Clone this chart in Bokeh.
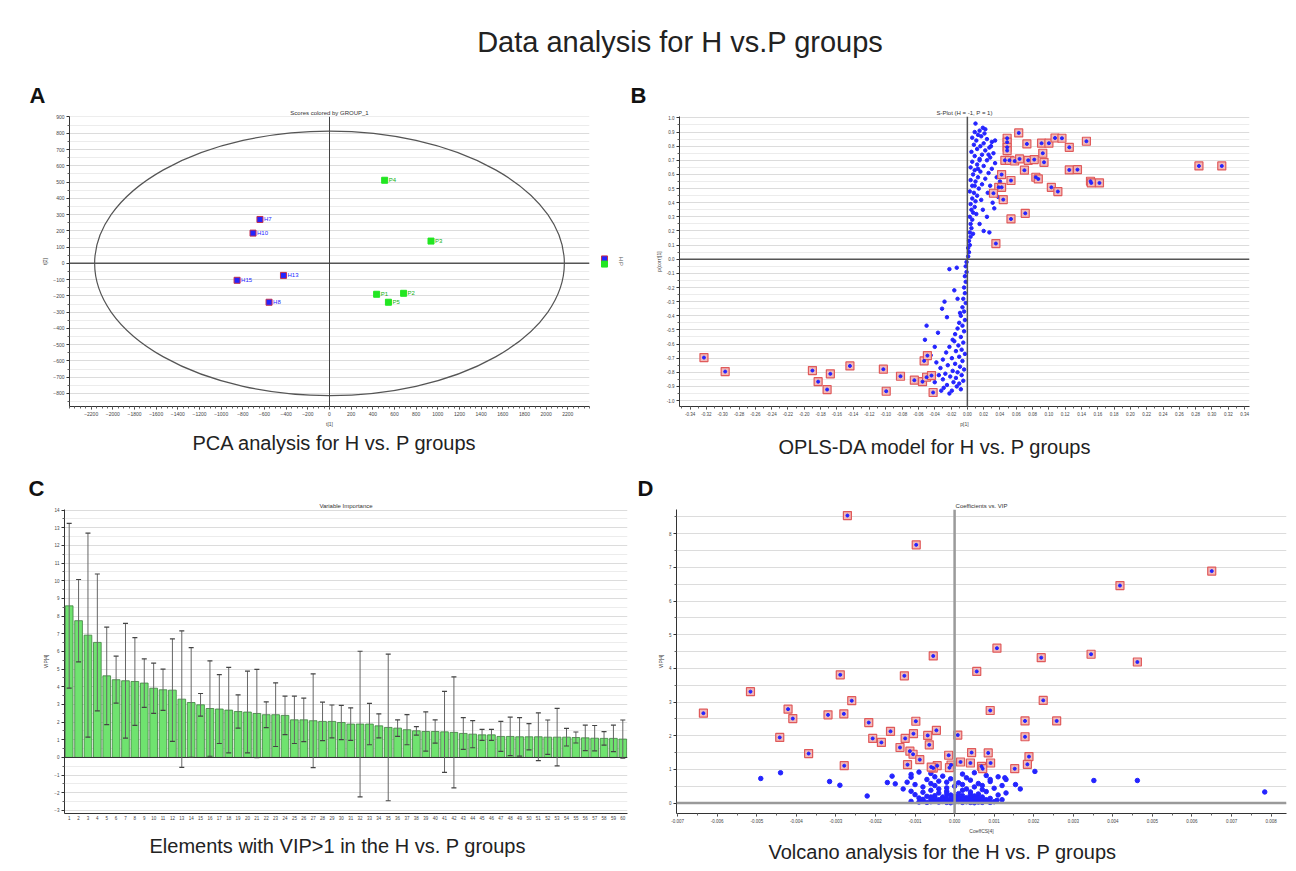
from bokeh.plotting import figure
from bokeh.models import (ColumnDataSource, Span, Title, FixedTicker, Whisker, TeeHead,
                          PrintfTickFormatter, Div, FactorRange)
from bokeh.layouts import column, row
from bokeh.embed import file_html
from bokeh.resources import INLINE
from bokeh.core.properties import value

FONT = "Liberation Sans"
main_title = "Data analysis for H vs.P groups"

# ---------------- Panel A : PCA scores ----------------
pca_h_labels = ["H7", "H10", "H13", "H15", "H8"]
pca_h_t1 = [-642, -706, -425, -853, -558]
pca_h_t2 = [270, 186, -74, -104, -239]
pca_p_labels = ["P4", "P3", "P1", "P2", "P5"]
pca_p_t1 = [509, 937, 435, 684, 544]
pca_p_t2 = [511, 137, -190, -184, -239]
pca_groups = ["H", "P"]
ellipse_t1_radius = 2168
ellipse_t2_radius = 813
pca_xticks = list(range(-2200, 2201, 200))
pca_yticks = list(range(-900, 901, 100))

# ---------------- Panel B : S-plot ----------------
splot_sig_p = [0.0488, 0.0488, 0.0488, 0.0488, 0.063, 0.073, 0.091, 0.100, 0.1075, 0.116,
               0.125, 0.146, 0.0925, 0.094, 0.046, 0.0516, 0.058, 0.064, 0.0746, 0.082,
               0.042, 0.070, 0.084, 0.087, 0.125, 0.135, 0.0535, 0.151, 0.152, 0.162,
               0.0385, 0.042, 0.032, 0.103, 0.111, 0.044, 0.071, 0.0535, 0.035, 0.284, 0.312,
               -0.323, -0.297, -0.190, -0.183, -0.172, -0.168, -0.144, -0.103, -0.0995, -0.082,
               -0.065, -0.055, -0.053, -0.049, -0.050, -0.044, -0.042]
splot_sig_corr = [0.856, 0.828, 0.792, 0.769, 0.894, 0.816, 0.821, 0.821, 0.858, 0.856,
                  0.792, 0.835, 0.75, 0.686, 0.70, 0.70, 0.695, 0.71, 0.70, 0.705,
                  0.599, 0.630, 0.58, 0.568, 0.632, 0.634, 0.557, 0.552, 0.54, 0.54,
                  0.509, 0.509, 0.467, 0.509, 0.479, 0.422, 0.325, 0.285, 0.111, 0.660, 0.660,
                  -0.696, -0.795, -0.788, -0.866, -0.922, -0.811, -0.755, -0.778, -0.934, -0.828,
                  -0.856, -0.866, -0.719, -0.682, -0.835, -0.823, -0.943]
splot_up_p = [0.001, 0.002, 0.001, 0.003, 0.002, 0.004, 0.003, 0.005, 0.004, 0.006,
              0.003, 0.007, 0.005, 0.009, 0.004, 0.010, 0.006, 0.012, 0.008, 0.003,
              0.014, 0.006, 0.018, 0.010, 0.004, 0.022, 0.013, 0.007, 0.026, 0.016,
              0.009, 0.030, 0.004, 0.020, 0.012, 0.034, 0.006, 0.024, 0.015, 0.028,
              0.009, 0.018, 0.032, 0.005, 0.022, 0.012, 0.027, 0.016, 0.008, 0.020,
              0.030, 0.011, 0.024, 0.006, 0.017, 0.013, 0.021, 0.009, 0.015, 0.019,
              0.010,
              0.028, 0.036, 0.025, 0.031, 0.019, 0.024, 0.015, 0.020, 0.035, 0.027,
              0.033, 0.038, 0.040, 0.029, 0.034, 0.022, 0.013, 0.009, 0.017, 0.011,
              0.007, 0.015, 0.026]
splot_up_corr = [0.02, 0.05, 0.08, 0.10, 0.13, 0.16, 0.19, 0.22, 0.25, 0.28,
                 0.30, 0.33, 0.35, 0.37, 0.39, 0.41, 0.43, 0.45, 0.47, 0.48,
                 0.50, 0.52, 0.53, 0.55, 0.56, 0.57, 0.58, 0.60, 0.61, 0.62,
                 0.63, 0.64, 0.65, 0.66, 0.67, 0.68, 0.69, 0.70, 0.71, 0.72,
                 0.73, 0.74, 0.75, 0.76, 0.77, 0.78, 0.79, 0.80, 0.81, 0.82,
                 0.83, 0.84, 0.85, 0.86, 0.87, 0.88, 0.89, 0.90, 0.91, 0.93,
                 0.96,
                 0.52, 0.58, 0.47, 0.40, 0.35, 0.30, 0.25, 0.20, 0.12, 0.19,
                 0.36, 0.44, 0.55, 0.80, 0.84, 0.92, 0.64, 0.52, 0.42, 0.32,
                 0.18, 0.70, 0.74]
splot_lo_p = [-0.001, -0.002, -0.001, -0.003, -0.002, -0.004, -0.003, -0.005, -0.002, -0.006,
              -0.004, -0.008, -0.003, -0.010, -0.006, -0.012, -0.004, -0.015, -0.008, -0.018,
              -0.005, -0.011, -0.022, -0.007, -0.014, -0.026, -0.003, -0.010, -0.019, -0.030,
              -0.006, -0.015, -0.024, -0.009, -0.033, -0.004, -0.018, -0.012, -0.027, -0.007,
              -0.021, -0.014, -0.030, -0.005, -0.017, -0.010, -0.025, -0.013, -0.029, -0.008, -0.019,
              -0.022, -0.013, -0.031, -0.028, -0.050, -0.052, -0.025, -0.036, -0.040, -0.045,
              -0.038, -0.035, -0.040, -0.032, -0.022, -0.016, -0.009, -0.012, -0.016]
splot_lo_corr = [-0.02, -0.05, -0.09, -0.12, -0.16, -0.20, -0.24, -0.28, -0.31, -0.34,
                 -0.37, -0.40, -0.43, -0.45, -0.47, -0.49, -0.51, -0.53, -0.55, -0.57,
                 -0.59, -0.61, -0.62, -0.64, -0.65, -0.66, -0.67, -0.69, -0.70, -0.71,
                 -0.72, -0.74, -0.75, -0.76, -0.77, -0.78, -0.79, -0.80, -0.81, -0.82,
                 -0.83, -0.84, -0.85, -0.86, -0.87, -0.88, -0.89, -0.90, -0.91, -0.92, -0.93,
                 -0.07, -0.06, -0.35, -0.30, -0.47, -0.57, -0.41, -0.52, -0.62, -0.68,
                 -0.73, -0.82, -0.87, -0.93, -0.95, -0.58, -0.38, -0.28, -0.22]
splot_xticks = [round(-0.34 + 0.02 * i, 2) for i in range(35)]
splot_yticks = [round(-1.0 + 0.1 * i, 1) for i in range(21)]

# ---------------- Panel C : VIP bars ----------------
vip_rank = list(range(1, 61))
vip_value = [8.58, 7.74, 6.92, 6.51, 4.62, 4.40, 4.34, 4.30, 4.21, 3.92,
             3.83, 3.81, 3.30, 3.11, 2.98, 2.77, 2.74, 2.68, 2.60, 2.57,
             2.49, 2.42, 2.42, 2.38, 2.13, 2.13, 2.08, 2.04, 2.04, 1.98,
             1.89, 1.89, 1.89, 1.79, 1.70, 1.66, 1.57, 1.51, 1.47, 1.47,
             1.45, 1.42, 1.36, 1.32, 1.28, 1.28, 1.19, 1.19, 1.17, 1.17,
             1.17, 1.15, 1.15, 1.15, 1.13, 1.11, 1.09, 1.08, 1.08, 1.04]
vip_err = [4.66, 2.33, 5.77, 3.87, 2.76, 1.33, 3.25, 2.48, 1.37, 1.42,
           1.17, 2.90, 3.86, 3.10, 0.64, 2.70, 1.95, 2.42, 0.94, 2.31,
           2.50, 0.73, 1.80, 1.09, 1.34, 1.23, 2.65, 1.09, 0.93, 0.97,
           0.92, 4.12, 1.17, 0.68, 4.15, 0.47, 0.85, 0.24, 1.11, 0.66,
           2.29, 3.14, 0.90, 0.77, 0.31, 0.31, 0.85, 1.09, 1.09, 0.74,
           1.35, 0.97, 1.63, 0.50, 0.31, 0.72, 0.72, 0.38, 0.75, 1.08]
vip_yticks = list(range(-3, 15))

# ---------------- Panel D : Coefficients vs VIP ----------------
volc_sig_coef = [-0.00271, -0.00097, 0.0065, 0.00418, 0.00107, -0.00054, 0.00345, 0.00219, 0.00462, -0.00289,
                 -0.00127, 0.00056, -0.00516, -0.0026, 0.00224, -0.00635, -0.00421, -0.00409, -0.0032, -0.0028,
                 0.0009, -0.00217, -0.00098, 0.00178, 0.00258, -0.00162, -0.00104, -0.00046, -0.00068, 0.00008,
                 -0.00442, -0.00207, -0.00125, -0.00185, 0.00178, -0.00064, -0.00138, -0.00113, -0.00105, -0.00369,
                 -0.00015, 0.00043, 0.00085, 0.00188, -0.00088, 0.00015, 0.0004, 0.00091, -0.00119, -0.00279,
                 -0.00044, -0.00009, 0.00068, -0.00054, -0.00013, -0.00059, 0.00071, 0.00152, 0.00184]
volc_sig_vip = [8.54, 7.67, 6.89, 6.46, 4.60, 4.37, 4.42, 4.32, 4.19, 3.81,
                3.78, 3.91, 3.31, 3.04, 3.05, 2.67, 2.79, 2.51, 2.62, 2.65,
                2.75, 2.39, 2.43, 2.44, 2.44, 2.13, 2.06, 2.16, 2.01, 2.02,
                1.95, 1.92, 1.92, 1.80, 1.97, 1.73, 1.65, 1.54, 1.45, 1.47,
                1.42, 1.50, 1.49, 1.38, 1.29, 1.22, 1.19, 1.19, 1.14, 1.11,
                1.11, 1.13, 1.09, 1.04, 1.05, 1.07, 1.02, 1.02, 1.15]
volc_ns_coef = [-0.0049, -0.0044, -0.00316, -0.0029, -0.00221, -0.00158, -0.0017, -0.0015, -0.0011, 0.00203,
                0.00352, 0.00462, 0.00784, 0.00127, 0.00154, 0.00166, 0.00107,
                -0.0011, -0.0009, -0.0006, -0.0003, 0.0002, 0.0005, 0.0008, 0.0011, 0.0013,
                -0.0012, -0.0010, -0.0007, -0.0004, -0.0001, 0.0001, 0.0004, 0.0006, 0.0009, 0.0012,
                -0.0013, -0.0011, -0.0008, -0.0005, -0.0002, 0.0000, 0.0003, 0.0005, 0.0007, 0.0010, 0.0013,
                -0.0010, -0.0008, -0.0006, -0.0004, -0.0002, 0.0001, 0.0002, 0.0004, 0.0006, 0.0008, 0.0011,
                -0.0009, -0.0007, -0.0005, -0.0003, -0.0001, 0.0000, 0.0002, 0.0003, 0.0005, 0.0007, 0.0009, 0.0012,
                -0.0011, -0.0008, -0.0006, -0.0005, -0.0004, -0.0003, -0.0002, -0.0001, 0.0000, 0.0001,
                0.0002, 0.0003, 0.0004, 0.0005, 0.0006, 0.0007, 0.0008, 0.0010,
                -0.0007, -0.0006, -0.0004, -0.0003, -0.0002, -0.0001, 0.0000, 0.0001, 0.0002, 0.0003,
                0.0004, 0.0005, 0.0006, 0.0007,
                -0.0005, -0.0002, 0.0001, 0.0004, -0.0004, 0.0002, -0.0006, 0.0007, -0.0002, 0.0003,
                -0.0005, 0.0009,
                -0.0009, -0.0008, -0.0006, -0.0003, -0.0001, 0.0001, 0.0003, 0.0005, 0.0006, 0.0008,
                0.0009, 0.0004, -0.0002, 0.0000]
volc_ns_vip = [0.73, 0.90, 0.64, 0.53, 0.21, 0.80, 0.61, 0.57, 0.77, 0.94,
               0.67, 0.67, 0.33, 0.75, 0.55, 0.42, 0.08,
               0.85, 0.92, 0.88, 0.80, 0.86, 0.90, 0.82, 0.78, 0.70,
               0.62, 0.55, 0.70, 0.65, 0.72, 0.60, 0.68, 0.58, 0.64, 0.52,
               0.42, 0.35, 0.48, 0.52, 0.45, 0.50, 0.42, 0.48, 0.40, 0.44, 0.30,
               0.25, 0.32, 0.38, 0.30, 0.35, 0.28, 0.38, 0.33, 0.27, 0.34, 0.24,
               0.15, 0.20, 0.22, 0.18, 0.24, 0.20, 0.22, 0.16, 0.21, 0.18, 0.14, 0.10,
               0.05, 0.08, 0.12, 0.06, 0.10, 0.13, 0.07, 0.11, 0.14, 0.09,
               0.12, 0.06, 0.10, 0.13, 0.08, 0.11, 0.06, 0.04,
               0.02, 0.04, 0.03, 0.05, 0.02, 0.04, 0.03, 0.05, 0.02, 0.04,
               0.02, 0.05, 0.03, 0.02,
               0.16, 0.28, 0.17, 0.25, 0.42, 0.55, 0.58, 0.52, 0.62, 0.75,
               0.78, 0.70,
               0.03, 0.11, 0.18, 0.09, 0.01, 0.13, 0.11, 0.01, 0.15, 0.10,
               0.02, 0.19, 0.15, 0.08]
volc_xticks = [round(-0.007 + 0.001 * i, 3) for i in range(16)]
volc_yticks = list(range(0, 10))

BLUE = "#2424ff"
GREEN = "#22e622"
RED_EDGE = "#e05a5a"
RED_FILL = "#f2b8b8"


def style(p, tick_size="5px"):
    for ax in p.axis:
        ax.major_label_text_font_size = tick_size
        ax.major_label_text_color = "#444444"
        ax.major_label_text_font = FONT
        ax.axis_label_text_font_size = "5px"
        ax.axis_label_text_font_style = "normal"
        ax.axis_label_text_font = FONT
        ax.axis_label_text_color = "#444444"
        ax.axis_label_standoff = 2
        ax.major_label_standoff = 2
        ax.axis_line_color = "#333333"
        ax.major_tick_line_color = "#333333"
        ax.minor_tick_line_color = "#666666"
        ax.major_tick_out = 3
        ax.major_tick_in = 0
        ax.minor_tick_out = 2
        ax.minor_tick_in = 0
    p.outline_line_color = None
    p.xgrid.grid_line_color = None
    p.ygrid.grid_line_color = "#dcdcdc"
    p.ygrid.minor_grid_line_color = "#ececec"
    p.background_fill_color = "white"
    p.border_fill_color = "white"


def titles(p, small, letter, letter_offset, caption, caption_offset, caption_standoff):
    p.add_layout(Title(text=small, align="center", text_font=FONT, text_font_size="6px",
                       text_font_style="normal", text_color="#333333", standoff=1), "above")
    p.add_layout(Title(text=letter, align="left", offset=letter_offset, text_font=FONT,
                       text_font_size="22px", text_font_style="bold", text_color="#111111",
                       standoff=0), "above")
    p.add_layout(Title(text=caption, align="left", offset=caption_offset, text_font=FONT,
                       text_font_size="20px", text_font_style="normal", text_color="#222222",
                       standoff=caption_standoff), "below")


# Row 1 geometry (page has no margin): frames at y 116..406
R1_TOP, R1_FRAME, R1_BOTTOM = 41, 290, 59
# Row 2 geometry: frames at y 509..813
R2_TOP, R2_FRAME, R2_BOTTOM = 44, 304, 58

# ---------- A ----------
pA = figure(frame_width=520, frame_height=R1_FRAME, min_border_left=69, min_border_right=11,
            min_border_top=R1_TOP, min_border_bottom=R1_BOTTOM, x_range=(-2400, 2400), y_range=(-880, 903),
            output_backend="svg", toolbar_location=None, title=None)
pA.xaxis.ticker = FixedTicker(ticks=pca_xticks, minor_ticks=list(range(-2400, 2401, 50)))
pA.yaxis.ticker = FixedTicker(ticks=pca_yticks, minor_ticks=list(range(-850, 851, 100)))
pA.xaxis.axis_label = "t[1]"
pA.yaxis.axis_label = "t[2]"
style(pA)
pA.add_layout(Span(location=0, dimension="width", line_color="#555555", line_width=1.5))
pA.add_layout(Span(location=0, dimension="height", line_color="#444444", line_width=1))
pA.ellipse(x=[0], y=[0], width=[2 * ellipse_t1_radius], height=[2 * ellipse_t2_radius],
           fill_color=None, line_color="#555555", line_width=1.2)
pA.scatter(pca_h_t1, pca_h_t2, marker="square", size=6, fill_color=BLUE, line_color="#c03050")
pA.scatter(pca_p_t1, pca_p_t2, marker="square", size=6, fill_color=GREEN, line_color=GREEN)
pA.text(pca_h_t1, pca_h_t2, text=pca_h_labels, x_offset=4, text_font_size="6px",
        text_baseline="middle", text_color=BLUE, text_font=value(FONT))
pA.text(pca_p_t1, pca_p_t2, text=pca_p_labels, x_offset=4, text_font_size="6px",
        text_baseline="middle", text_color="#10b010", text_font=value(FONT))
titles(pA, "Scores colored by GROUP_1", "A", -40, "PCA analysis for H vs. P groups", 123, 0)

# ---------- A group key ----------
pL = figure(frame_width=25, frame_height=R1_FRAME, min_border_left=0, min_border_right=0,
            min_border_top=R1_TOP, min_border_bottom=R1_BOTTOM, x_range=(0, 1),
            y_range=FactorRange(factors=pca_groups[::-1], range_padding=27.1,
                                range_padding_units="absolute"),
            output_backend="svg", toolbar_location=None, title=None)
pL.axis.visible = False
pL.grid.grid_line_color = None
pL.outline_line_color = None
pL.scatter(x=[0.16, 0.16], y=pca_groups, marker="square", size=6,
           fill_color=[BLUE, GREEN], line_color=["#c03050", GREEN])
pL.text(x=[0.8, 0.8], y=pca_groups, text=pca_groups, angle=-1.5708, text_font_size="6px",
        text_align="center", text_baseline="middle", text_color="#555555", text_font=value(FONT))

# ---------- B ----------
pB = figure(frame_width=570, frame_height=R1_FRAME, min_border_left=54, min_border_right=47,
            min_border_top=R1_TOP, min_border_bottom=R1_BOTTOM, x_range=(-0.353, 0.346),
            y_range=(-1.042, 1.010), output_backend="svg", toolbar_location=None, title=None)
pB.xaxis.ticker = FixedTicker(ticks=splot_xticks, minor_ticks=[round(-0.35 + 0.01 * i, 2) for i in range(71)])
pB.yaxis.ticker = FixedTicker(ticks=splot_yticks, minor_ticks=[round(-1.05 + 0.1 * i, 2) for i in range(22)])
pB.xaxis.formatter = PrintfTickFormatter(format="%.2f")
pB.yaxis.formatter = PrintfTickFormatter(format="%.1f")
pB.xaxis.axis_label = "p[1]"
pB.yaxis.axis_label = "p(corr)[1]"
style(pB, "4.5px")
pB.add_layout(Span(location=0, dimension="width", line_color="#555555", line_width=1.5))
pB.add_layout(Span(location=0, dimension="height", line_color="#555555", line_width=1.5))
pB.scatter(splot_up_p + splot_lo_p, splot_up_corr + splot_lo_corr, size=3.5,
           fill_color=BLUE, line_color=BLUE)
pB.scatter(splot_sig_p, splot_sig_corr, marker="square", size=8, fill_color=RED_FILL,
           line_color=RED_EDGE, line_width=1.2)
pB.scatter(splot_sig_p, splot_sig_corr, size=3, fill_color=BLUE, line_color=BLUE)
titles(pB, "S-Plot (H = -1, P = 1)", "B", -49, "OPLS-DA model for H vs. P groups", 99, 8)

# ---------- C ----------
src_c = ColumnDataSource(dict(
    x=vip_rank, vip=vip_value,
    upper=[v + e for v, e in zip(vip_value, vip_err)],
    lower=[v - e for v, e in zip(vip_value, vip_err)],
))
pC = figure(frame_width=563, frame_height=R2_FRAME, min_border_left=64, min_border_right=5,
            min_border_top=R2_TOP, min_border_bottom=R2_BOTTOM, x_range=(0.5, 60.5), y_range=(-3.17, 14.03),
            output_backend="svg", toolbar_location=None, title=None)
pC.xaxis.ticker = FixedTicker(ticks=vip_rank)
pC.yaxis.ticker = FixedTicker(ticks=vip_yticks, minor_ticks=[-2.5 + i for i in range(17)])
pC.yaxis.axis_label = "VIP[4]"
style(pC, "4.5px")
pC.xaxis.major_tick_out = 0
pC.vbar(x="x", top="vip", width=0.82, source=src_c, fill_color="#6fe36f",
        line_color="#3f7f3f", line_width=0.8)
pC.add_layout(Span(location=0, dimension="width", line_color="#333333", line_width=1))
pC.add_layout(Whisker(base="x", upper="upper", lower="lower", source=src_c, level="overlay",
                      line_color="#666666", line_width=1,
                      upper_head=TeeHead(size=5, line_color="#444444", line_width=1.2),
                      lower_head=TeeHead(size=5, line_color="#444444", line_width=1.2)))
titles(pC, "Variable Importance", "C", -36, "Elements with VIP>1 in the H vs. P groups", 85, 20)

# ---------- D ----------
pD = figure(frame_width=610, frame_height=R2_FRAME, min_border_left=44, min_border_right=10,
            min_border_top=R2_TOP, min_border_bottom=R2_BOTTOM, x_range=(-0.00703, 0.00839),
            y_range=(-0.31, 8.72), output_backend="svg", toolbar_location=None, title=None)
pD.xaxis.ticker = FixedTicker(ticks=volc_xticks, minor_ticks=[round(-0.0075 + 0.0005 * i, 4) for i in range(33)])
pD.yaxis.ticker = FixedTicker(ticks=volc_yticks, minor_ticks=[0.5 + i for i in range(9)])
pD.xaxis.formatter = PrintfTickFormatter(format="%.3f")
pD.xaxis.axis_label = "CoeffCS[4]"
pD.yaxis.axis_label = "VIP[4]"
style(pD, "4.5px")
pD.ygrid.minor_grid_line_color = "#dcdcdc"
pD.add_layout(Span(location=0, dimension="width", line_color="#9a9a9a", line_width=2.5))
pD.add_layout(Span(location=0, dimension="height", line_color="#9a9a9a", line_width=2.5))
pD.scatter(volc_ns_coef, volc_ns_vip, size=4.5, fill_color=BLUE, line_color=BLUE)
pD.scatter(volc_sig_coef, volc_sig_vip, marker="square", size=8, fill_color=RED_FILL,
           line_color=RED_EDGE, line_width=1.2)
pD.scatter(volc_sig_coef, volc_sig_vip, size=3, fill_color=BLUE, line_color=BLUE)
titles(pD, "Coefficients vs. VIP", "D", -39, "Volcano analysis for the H vs. P groups", 92, 4)

title_div = Div(
    text=f'<div style="width:1232px;margin-left:64px;text-align:center;'
         f'font-family:\'{FONT}\',Arial,sans-serif;font-size:29px;color:#222;'
         f'padding-top:22px">{main_title}</div>',
    width=1296, height=75, margin=(0, 0, 0, 0))

layout = column(title_div, row(pA, pL, pB), row(pC, pD))
open("out.html", "w").write(file_html(layout, INLINE))
